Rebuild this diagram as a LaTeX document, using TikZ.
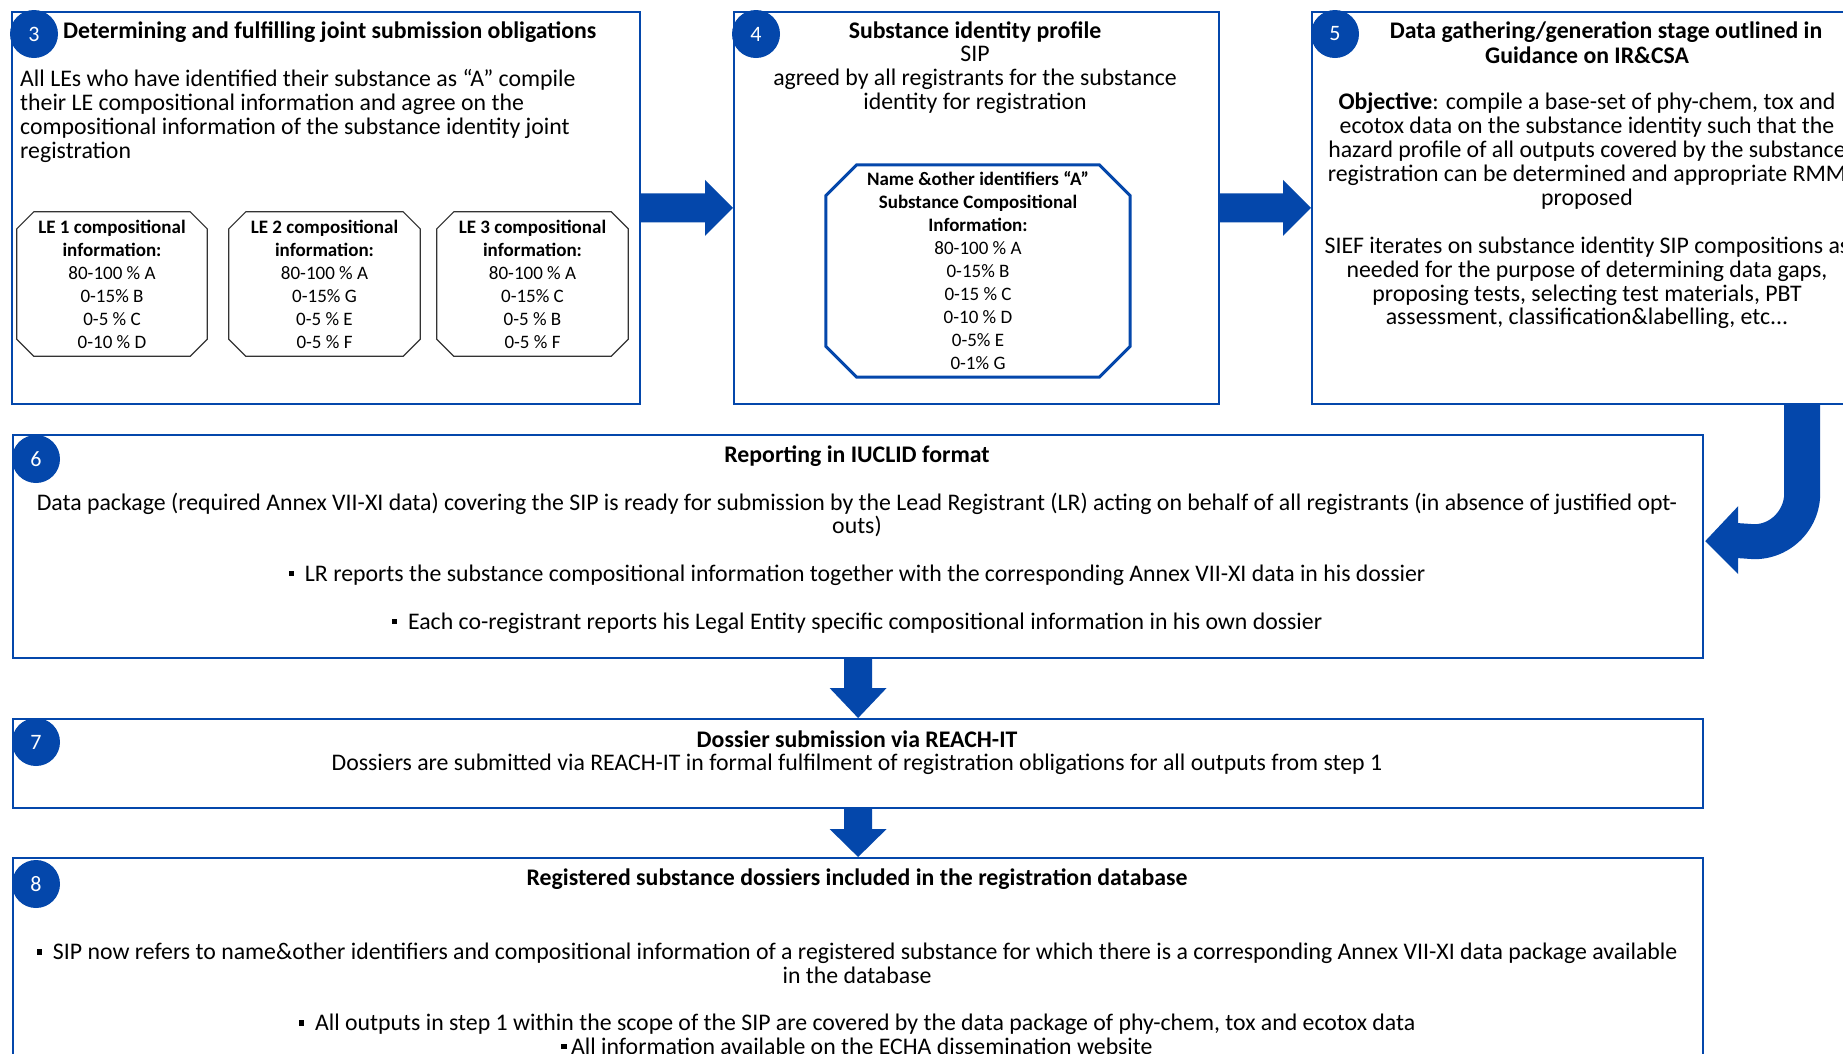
\documentclass[tikz,border=0pt]{standalone}
\usepackage{fontspec}
\setmainfont{Carlito}
\usetikzlibrary{calc}
\definecolor{ablue}{RGB}{4,71,171}
\newcommand{\sqb}{\rule[0.22em]{0.24em}{0.24em}\hspace{0.45em}}
\newcommand{\octo}[3]{\draw[#3] ($(#1.north west)+(#2,0)$) -- ($(#1.north east)+(-#2,0)$) -- ($(#1.north east)+(0,#2)$) -- ($(#1.south east)+(0,-#2)$) -- ($(#1.south east)+(-#2,0)$) -- ($(#1.south west)+(#2,0)$) -- ($(#1.south west)+(0,-#2)$) -- ($(#1.north west)+(0,#2)$) -- cycle;}
\tikzset{
  box/.style={draw=ablue, line width=2.2pt, rectangle, inner sep=0pt, anchor=north west},
  num/.style={circle, fill=ablue, minimum size=48pt, inner sep=0pt, text=white, font=\fontsize{22}{24}\selectfont},
  txt/.style={inner sep=0pt, font=\fontsize{23.8}{23.8}\selectfont, align=center, yshift=-1.5pt},
  ttl/.style={inner sep=0pt, font=\fontsize{23.8}{23.8}\selectfont\bfseries, align=center, yshift=-1.5pt},
  le/.style={inner sep=0pt, font=\fontsize{19}{23}\selectfont, align=center},
  ablk/.style={fill=ablue, draw=none},
}
\begin{document}
\begin{tikzpicture}[x=1pt,y=-1pt]
\useasboundingbox (0,0) rectangle (1843,1053);
\clip (0,0) rectangle (1843,1053);
\fill[white] (0,0) rectangle (1843,1053);
% boxes
\node[box, minimum width=628pt, minimum height=392.5pt] (b3) at (10.5,10.5) {};
\node[box, minimum width=484.5pt, minimum height=392.5pt] (b4) at (733,10.5) {};
\node[box, minimum width=552pt, minimum height=392.5pt] (b5) at (1311,10.5) {};
\node[box, minimum width=1690pt, minimum height=223pt] (b6) at (12,434) {};
\node[box, minimum width=1690pt, minimum height=89pt] (b7) at (12,718) {};
\node[box, minimum width=1690pt, minimum height=233pt] (b8) at (12,857) {};
% numbers
\node[num] (n3) at (34,34) {3};
\node[num] (n4) at (756,34) {4};
\node[num] (n5) at (1335,34) {5};
\node[num] (n6) at (36,459) {6};
\node[num] (n7) at (36,742) {7};
\node[num] (n8) at (36,884) {8};
% box 3
\node[ttl, anchor=west] (t3) at (63,30.5) {Determining and fulfilling joint submission obligations};
\node[txt, align=left, anchor=west] (t3b) at (20,114.5) {All LEs who have identified their substance as “A” compile\\their LE compositional information and agree on the\\compositional information of the substance identity joint\\registration};
\node[le, minimum width=190pt, minimum height=144pt] (le1) at (112,284) {\textbf{LE 1 compositional}\\\textbf{information:}\\80-100 \% A\\0-15\% B\\0-5 \% C\\0-10 \% D};
\node[le, minimum width=191pt, minimum height=144pt] (le2) at (324.5,284) {\textbf{LE 2 compositional}\\\textbf{information:}\\80-100 \% A\\0-15\% G\\0-5 \% E\\0-5 \% F};
\node[le, minimum width=191pt, minimum height=144pt] (le3) at (532.5,284) {\textbf{LE 3 compositional}\\\textbf{information:}\\80-100 \% A\\0-15\% C\\0-5 \% B\\0-5 \% F};
\octo{le1}{17}{black!80, line width=1.2pt}
\octo{le2}{17}{black!80, line width=1.2pt}
\octo{le3}{17}{black!80, line width=1.2pt}
% box 4
\node[txt] (t4) at (975,66) {\textbf{Substance identity profile}\\SIP\\agreed by all registrants for the substance\\identity for registration};
\node[le, minimum width=304pt, minimum height=212pt] (sip) at (978,271) {\textbf{Name \&other identifiers “A”}\\\textbf{Substance Compositional}\\\textbf{Information:}\\80-100 \% A\\0-15\% B\\0-15 \% C\\0-10 \% D\\0-5\% E\\0-1\% G};
\octo{sip}{31}{ablue, line width=3pt}
% box 5
\node[ttl] (t5a) at (1606,30.5) {Data gathering/generation stage outlined in};
\node[ttl] (t5b) at (1587,54) {Guidance on IR\&CSA};
\node[txt] (t5c) at (1587,149.5) {\textbf{Objective}: compile a base-set of phy-chem, tox and\\ecotox data on the substance identity such that the\\hazard profile of all outputs covered by the substance\\registration can be determined and appropriate RMM\\proposed};
\node[txt] (t5d) at (1587,281.5) {SIEF iterates on substance identity SIP compositions as\\needed for the purpose of determining data gaps,\\proposing tests, selecting test materials, PBT\\assessment, classification\&labelling, etc...};
% box 6
\node[ttl] (t6) at (857,455) {Reporting in IUCLID format};
\node[txt] (t6a) at (857,513.5) {Data package (required Annex VII-XI data) covering the SIP is ready for submission by the Lead Registrant (LR) acting on behalf of all registrants (in absence of justified opt-\\outs)};
\node[txt] (t6b) at (857,574) {\sqb LR reports the substance compositional information together with the corresponding Annex VII-XI data in his dossier};
\node[txt] (t6c) at (857,622) {\sqb Each co-registrant reports his Legal Entity specific compositional information in his own dossier};
% box 7
\node[ttl] (t7) at (857,738) {Dossier submission via REACH-IT};
\node[txt] (t7a) at (857,763) {Dossiers are submitted via REACH-IT in formal fulfilment of registration obligations for all outputs from step 1};
% box 8
\node[ttl] (t8) at (857,878) {Registered substance dossiers included in the registration database};
\node[txt] (t8a) at (857,962) {\sqb SIP now refers to name\&other identifiers and compositional information of a registered substance for which there is a corresponding Annex VII-XI data package available\\in the database};
\node[txt] (t8b) at (857,1023) {\sqb All outputs in step 1 within the scope of the SIP are covered by the data package of phy-chem, tox and ecotox data};
\node[txt] (t8c) at (857,1045) {\rule[0.22em]{0.24em}{0.24em}\,All information available on the ECHA dissemination website};
% horizontal arrows
\fill[ablk] ($(b3.east)+(0,-14.5)$) -- ($(b4.west)+(-28,-14.5)$) -- ($(b4.west)+(-28,-28)$) -- (b4.west) -- ($(b4.west)+(-28,28)$) -- ($(b4.west)+(-28,14.5)$) -- ($(b3.east)+(0,14.5)$) -- cycle;
\fill[ablk] ($(b4.east)+(0,-14.5)$) -- ($(b5.west)+(-28,-14.5)$) -- ($(b5.west)+(-28,-28)$) -- (b5.west) -- ($(b5.west)+(-28,28)$) -- ($(b5.west)+(-28,14.5)$) -- ($(b4.east)+(0,14.5)$) -- cycle;
% vertical arrows
\fill[ablk] ($(b6.south)+(-14,0)$) -- ($(b7.north)+(-14,-30)$) -- ($(b7.north)+(-28.5,-30)$) -- (b7.north) -- ($(b7.north)+(28.5,-30)$) -- ($(b7.north)+(14,-30)$) -- ($(b6.south)+(14,0)$) -- cycle;
\fill[ablk] ($(b7.south)+(-14,0)$) -- ($(b8.north)+(-14,-28)$) -- ($(b8.north)+(-28.5,-28)$) -- (b8.north) -- ($(b8.north)+(28.5,-28)$) -- ($(b8.north)+(14,-28)$) -- ($(b7.south)+(14,0)$) -- cycle;
% curved arrow 5 -> 6
\coordinate (src) at ($(b5.south east)+(-63,0)$);
\coordinate (tip) at ($(b6.east)+(1,-5.5)$);
\fill[ablk] ($(src)+(18,0)$) -- ($(src)+(18,88)$) .. controls ($(src)+(18,124.5)$) and ($(src)+(-11.5,154)$) .. ($(src)+(-48,154)$) -- ($(tip)+(33,17)$) -- ($(tip)+(33,33)$) -- (tip) -- ($(tip)+(33,-35)$) -- ($(tip)+(33,-18)$) -- ($(src)+(-48,119)$) .. controls ($(src)+(-31.4,119)$) and ($(src)+(-18,104.6)$) .. ($(src)+(-18,88)$) -- ($(src)+(-18,0)$) -- cycle;
\end{tikzpicture}
\end{document}
